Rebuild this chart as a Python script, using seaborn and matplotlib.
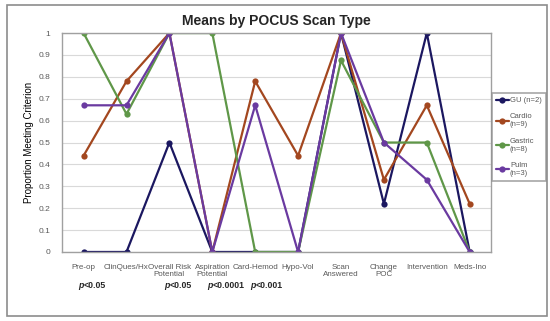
import pandas as pd
import numpy as np
import matplotlib.pyplot as plt
import seaborn as sns
from matplotlib.patches import Rectangle

categories = ['Pre-op', 'ClinQues/Hx', 'Overall Risk\nPotential', 'Aspiration\nPotential',
              'Card-Hemod', 'Hypo-Vol', 'Scan\nAnswered', 'Change\nPOC', 'Intervention', 'Meds-Ino']
gu = [0, 0, 0.5, 0, 0, 0, 1, 0.22, 1, 0]
cardio = [0.44, 0.78, 1, 0, 0.78, 0.44, 1, 0.33, 0.67, 0.22]
gastric = [1, 0.63, 1, 1, 0, 0, 0.875, 0.5, 0.5, 0]
pulm = [0.67, 0.67, 1, 0, 0.67, 0, 1, 0.5, 0.33, 0]
groups = ['GU (n=2)', 'Cardio\n(n=9)', 'Gastric\n(n=8)', 'Pulm\n(n=3)']
pvals = {0: '<0.05', 2: '<0.05', 3: '<0.0001', 4: '<0.001'}

rows = []
for g, vals in zip(groups, [gu, cardio, gastric, pulm]):
    for i, v in enumerate(vals):
        rows.append({'pos': i, 'value': v, 'group': g})
df = pd.DataFrame(rows)

sns.set_style('whitegrid')
plt.rcParams['font.family'] = ['Liberation Sans', 'DejaVu Sans']

fig = plt.figure(figsize=(5.5, 3.21), dpi=100)
ax = fig.add_axes([0.113, 0.215, 0.78, 0.682])

palette = ['#1b1760', '#a3471f', '#5f9748', '#6a3aa0']
sns.lineplot(data=df, x='pos', y='value', hue='group', palette=palette, marker='o',
             markersize=4.5, markeredgewidth=0, linewidth=1.6, ax=ax, sort=False)

ax.set_xlim(-0.5, 9.5)
ax.set_ylim(0, 1)
ax.set_yticks(np.arange(0, 1.01, 0.1))
ax.set_yticklabels(['0'] + ['%.1f' % t for t in np.arange(0.1, 0.95, 0.1)] + ['1'])
ax.set_xticks(range(len(categories)))
ax.set_xticklabels(categories, fontsize=5.8, color='#595959', linespacing=1.0)
ax.tick_params(axis='y', labelsize=6, labelcolor='#595959', pad=5)
ax.tick_params(axis='x', pad=5)
ax.grid(axis='x', visible=False)
ax.grid(axis='y', color='#d9d9d9', linewidth=0.8)
for s in ax.spines.values():
    s.set_color('#a0a0a0')
    s.set_linewidth(1.0)
ax.set_xlabel('')
ax.set_ylabel('Proportion Meeting Criterion', fontsize=7, color='black', labelpad=3)
ax.set_title('Means by POCUS Scan Type', fontsize=10, fontweight='bold', pad=6)

for i, txt in pvals.items():
    ax.text(i, -0.155, 'p', transform=ax.get_xaxis_transform(), ha='right', va='center',
            fontsize=6.3, fontweight='bold', fontstyle='italic')
    ax.text(i, -0.155, txt, transform=ax.get_xaxis_transform(), ha='left', va='center',
            fontsize=6.3, fontweight='bold')

leg = ax.legend(loc='upper left', bbox_to_anchor=(1.002, 0.726), fontsize=5.5,
                frameon=True, fancybox=False, handlelength=1.7, handletextpad=0.15,
                borderpad=0.5, labelspacing=1.2, borderaxespad=0)
leg.get_frame().set_edgecolor('#909090')
leg.get_frame().set_linewidth(1.2)
for t in leg.get_texts():
    t.set_color('#595959')

fig.patches.append(Rectangle((7 / 550, 1 - 316 / 321), 540 / 550, 311 / 321,
                             transform=fig.transFigure, fill=False,
                             edgecolor='#8c8c8c', linewidth=1.2))

fig.savefig('out.png', dpi=100)
